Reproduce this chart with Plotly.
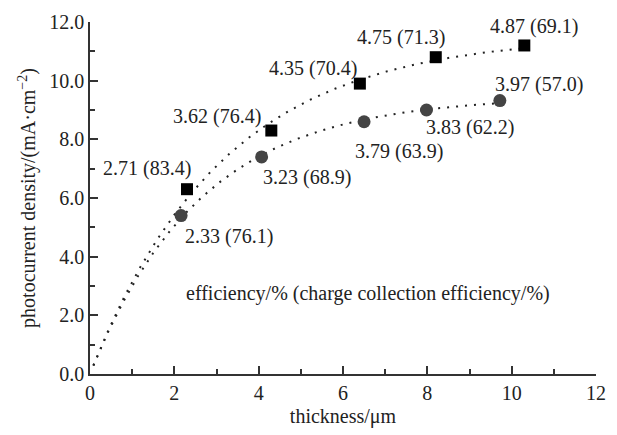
import numpy as np
import plotly.graph_objects as go

# Data
sq_x = [2.3, 4.3, 6.4, 8.2, 10.3]
sq_y = [6.3, 8.3, 9.9, 10.8, 11.2]
sq_labels = ["2.71 (83.4)", "3.62 (76.4)", "4.35 (70.4)", "4.75 (71.3)", "4.87 (69.1)"]
sq_lab_x = [1.35, 3.0, 5.28, 7.38, 10.54]
sq_lab_y = [7.0, 8.78, 10.43, 11.46, 11.84]

ci_x = [2.16, 4.07, 6.5, 7.98, 9.72]
ci_y = [5.4, 7.4, 8.6, 9.0, 9.32]
ci_labels = ["2.33 (76.1)", "3.23 (68.9)", "3.79 (63.9)", "3.83 (62.2)", "3.97 (57.0)"]
ci_lab_x = [3.3, 5.14, 7.33, 9.02, 10.65]
ci_lab_y = [4.69, 6.7, 7.59, 8.4, 9.86]

note_text = "efficiency/% (charge collection efficiency/%)"
x_ticks = [0, 2, 4, 6, 8, 10, 12]
y_ticks = [0, 2, 4, 6, 8, 10, 12]
y_tick_text = ["0.0", "2.0", "4.0", "6.0", "8.0", "10.0", "12.0"]


def fit_saturation(xs, ys):
    """Least-squares fit y = A(1-exp(-x/t)) through the origin."""
    xs = np.asarray(xs, float)
    ys = np.asarray(ys, float)
    best = None
    for t in np.linspace(0.5, 10, 2000):
        g = 1 - np.exp(-xs / t)
        A = (g @ ys) / (g @ g)
        err = np.sum((A * g - ys) ** 2)
        if best is None or err < best[0]:
            best = (err, A, t)
    return best[1], best[2]


FONT = "'Liberation Serif', 'Times New Roman', Times, serif"
TXT = "#222222"
fig = go.Figure()

for xs, ys in [(sq_x, sq_y), (ci_x, ci_y)]:
    A, t = fit_saturation(xs, ys)
    fx = np.linspace(0.08, xs[-1], 300)
    fy = A * (1 - np.exp(-fx / t))
    fig.add_trace(go.Scatter(x=fx, y=fy, mode="lines",
                             line=dict(color="#222222", width=2, dash="2px,7px"),
                             hoverinfo="skip", showlegend=False))

fig.add_trace(go.Scatter(x=sq_x, y=sq_y, mode="markers",
                         marker=dict(symbol="square", size=12, color="#000000"),
                         showlegend=False))
fig.add_trace(go.Scatter(x=ci_x, y=ci_y, mode="markers",
                         marker=dict(symbol="circle", size=13, color="#444444"),
                         showlegend=False))

for lx, ly, t in zip(sq_lab_x + ci_lab_x, sq_lab_y + ci_lab_y, sq_labels + ci_labels):
    fig.add_annotation(x=lx, y=ly, text=t, showarrow=False,
                       font=dict(family=FONT, size=20, color=TXT))

fig.add_annotation(x=6.6, y=2.76, text=note_text, showarrow=False,
                   font=dict(family=FONT, size=20, color=TXT))

axis_common = dict(
    showgrid=False, zeroline=False, showline=True, linecolor="#333333", linewidth=1.5,
    ticks="inside", ticklen=8, tickwidth=1.5, tickcolor="#333333",
    tickfont=dict(family=FONT, size=20, color=TXT),
    minor=dict(ticks="inside", ticklen=5, tickwidth=1.5, tickcolor="#333333", dtick=1),
    mirror=False,
)

fig.update_xaxes(range=[0, 12], tickvals=x_ticks, **axis_common,
                 title=dict(text="thickness/μm", font=dict(family=FONT, size=20, color=TXT),
                            standoff=6))
fig.update_yaxes(range=[0, 12], tickvals=y_ticks, ticktext=y_tick_text, **axis_common,
                 title=dict(text="photocurrent density/(mA·cm<sup>−2</sup>)",
                            font=dict(family=FONT, size=20, color=TXT), standoff=8))

fig.update_layout(width=617, height=435, margin=dict(l=90, r=11, t=22, b=60),
                  plot_bgcolor="white", paper_bgcolor="white",
                  font=dict(family=FONT, size=20, color=TXT))

fig.write_html("out.html")
